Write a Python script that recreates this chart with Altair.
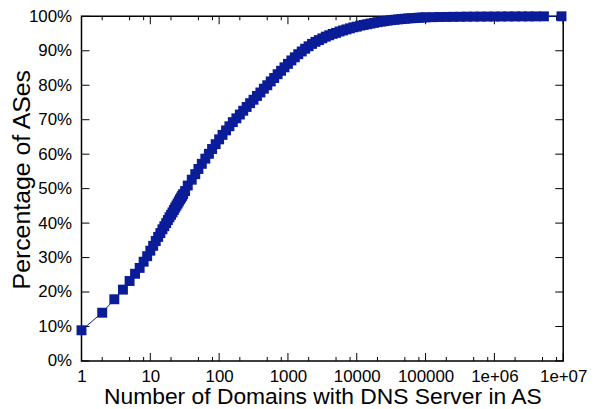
import altair as alt
import pandas as pd

# Number of domains with a DNS server in the AS (x) and cumulative percentage of ASes (y)
domains = [1, 2, 3, 4, 5, 6, 7, 8, 9, 10, 11, 12, 13, 14, 15, 16, 17, 18, 19, 20,
           21, 22, 23, 24, 25, 26, 27, 28, 29, 30, 32,
           35, 40, 45, 50, 56, 63, 71, 79, 89, 100, 112, 126, 141, 158, 178, 200, 224,
           251, 282, 316, 355, 398, 447, 501, 562, 631, 708, 794, 891, 1000, 1122, 1259,
           1413, 1585, 1778, 1995, 2239, 2512, 2818, 3162, 3548, 3981, 4467, 5012, 5623,
           6310, 7079, 7943, 8913, 10000, 11220, 12589, 14125, 15849, 17783, 19953, 22387,
           25119, 28184, 31623, 35481, 39811, 44668, 50119, 56234, 63096, 70795, 79433,
           89125, 100000, 125893, 158489, 199526, 251189, 316228, 398107, 501187, 630957,
           794328, 1000000, 1258925, 1584893, 1995262, 2511886, 3162278, 3981072, 5248075,
           9440609]
pct = [8.9, 14.0, 17.9, 20.7, 23.2, 25.3, 27.0, 28.8, 30.4, 32.0, 33.4, 34.8, 36.0, 37.1,
       38.2, 39.1, 40.0, 40.9, 41.7, 42.4, 43.1, 43.8, 44.5, 45.1, 45.7, 46.3, 46.9, 47.4,
       47.9, 48.4, 49.3,
       50.9, 52.6, 54.2, 55.7, 57.2, 58.7, 60.1, 61.5, 62.9, 64.3, 65.6, 66.9, 68.1, 69.3,
       70.4, 71.5, 72.6, 73.7, 74.8, 75.8, 76.9, 77.9, 79.0, 80.0, 81.1, 82.1, 83.2, 84.2,
       85.2, 86.2, 87.2, 88.1, 89.0, 89.8, 90.6, 91.3, 92.0, 92.6, 93.1, 93.6, 94.1, 94.5,
       94.9, 95.2, 95.6, 95.9, 96.2, 96.5, 96.8, 97.0, 97.3, 97.5, 97.7, 97.9, 98.1, 98.3,
       98.45, 98.6, 98.75, 98.9, 99.0, 99.1, 99.2, 99.3, 99.4, 99.45, 99.5, 99.6, 99.65,
       99.7, 99.75, 99.8, 99.82, 99.85, 99.87, 99.9, 99.91, 99.92, 99.93, 99.94, 99.95,
       99.96, 99.965, 99.97, 99.975, 99.98, 99.99, 100.0]

x_major = [1, 10, 100, 1000, 10000, 100000, 1000000, 10000000]
x_labels = ["1", "10", "100", "1000", "10000", "100000", "1e+06", "1e+07"]
minor_mult = [2, 5, 8]
x_minor = [m * v for v in x_major[:-1] for m in minor_mult]
y_major = [0, 10, 20, 30, 40, 50, 60, 70, 80, 90, 100]

W, H = 485, 347
BLUE = "#0a1c98"
FONT = "Liberation Sans"

df = pd.DataFrame({"domains": domains, "pct": pct})
xscale = alt.Scale(type="log", domain=[1, 10000000], nice=False)
yscale = alt.Scale(domain=[0, 100], nice=False)

expr = "''"
for v, t in reversed(list(zip(x_major, x_labels))):
    expr = f"datum.value == {v} ? '{t}' : ({expr})"

xaxis = alt.Axis(values=x_major, labelExpr=expr, ticks=False, domain=False, grid=False,
                 labelPadding=8, labelFontSize=17, labelFont=FONT, labelColor="black",
                 labelOverlap=False, labelFlush=False,
                 title="Number of Domains with DNS Server in AS", titleFontSize=23,
                 titleFont=FONT, titleFontWeight="normal", titleColor="black",
                 titleBaseline="alphabetic", titleY=43)
yaxis = alt.Axis(values=y_major, labelExpr="datum.value + '%'", ticks=False, domain=False,
                 grid=False, labelPadding=10, labelFontSize=17, labelFont=FONT,
                 labelColor="black", labelOverlap=False, labelFlush=False,
                 title="Percentage of ASes", titleFontSize=25, titleFont=FONT,
                 titleFontWeight="normal", titleColor="black",
                 titleBaseline="alphabetic", titleX=-52, titleY=164)

X = alt.X("domains:Q", scale=xscale, axis=xaxis)
Y = alt.Y("pct:Q", scale=yscale, axis=yaxis)

line = alt.Chart(df).mark_line(color=BLUE, strokeWidth=1).encode(x=X, y=Y)
points = alt.Chart(df).mark_square(size=100, color=BLUE, opacity=1).encode(x=X, y=Y)

txmaj = pd.DataFrame({"domains": x_major})
txmin = pd.DataFrame({"domains": x_minor})
tymaj = pd.DataFrame({"pct": y_major})

def xticks(data, y1, y2):
    return alt.Chart(data).mark_rule(color="black", strokeWidth=1).encode(
        x=X, y=alt.value(y1), y2=alt.value(y2))

def yticks(data, x1, x2):
    return alt.Chart(data).mark_rule(color="black", strokeWidth=1).encode(
        y=Y, x=alt.value(x1), x2=alt.value(x2))

ticks = [
    xticks(txmaj, H, H - 8), xticks(txmaj, 0, 8),
    xticks(txmin, H, H - 4), xticks(txmin, 0, 4),
    yticks(tymaj, 0, 8), yticks(tymaj, W, W - 8),
]

chart = alt.layer(line, *ticks, points).properties(
    width=W, height=H,
    autosize=alt.AutoSizeParams(type="none"),
    padding={"left": 74, "top": 7, "right": 30, "bottom": 47},
).configure(background="white", view=alt.ViewConfig(stroke="black", strokeWidth=1.5))

chart.save("out.html", embed_options={"renderer": "svg", "actions": False})
